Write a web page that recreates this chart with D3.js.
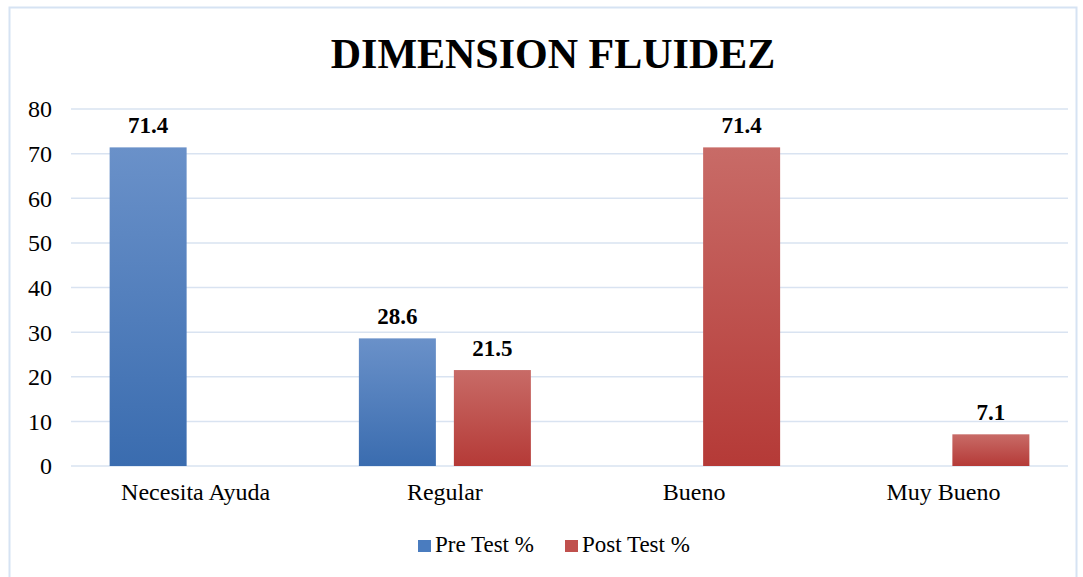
<!DOCTYPE html>
<meta charset="utf-8">
<style>
body { margin: 0; background: #fff; }
.grid line { stroke: #D9E3F1; stroke-width: 1.5px; }
</style>
<svg width="1083" height="577"></svg>
<script src="https://cdnjs.cloudflare.com/ajax/libs/d3/7.8.5/d3.min.js"></script>
<script>
    var categories = ["Necesita Ayuda", "Regular", "Bueno", "Muy Bueno"];
    var series = ["Pre Test %", "Post Test %"];
    var preTest = [71.4, 28.6, null, null];
    var postTest = [null, 21.5, 71.4, 7.1];
    var yTicks = [0, 10, 20, 30, 40, 50, 60, 70, 80];

    var FONT = "'Liberation Serif', 'Times New Roman', 'DejaVu Serif', serif";

    var svg = d3.select("svg");
    var margin = {left: 71, top: 109, right: 15, bottom: 111};
    var width = 1068 - margin.left;
    var height = 466 - margin.top;

    // borde del grafico
    svg.append("rect")
        .attr("x", 9.5).attr("y", 7.5)
        .attr("width", 1067).attr("height", 580)
        .attr("fill", "none")
        .attr("stroke", "#D6E3F3")
        .attr("stroke-width", 2);

    var defs = svg.append("defs");
    function grad(id, top, bottom) {
        var g = defs.append("linearGradient").attr("id", id)
            .attr("x1", 0).attr("y1", 0).attr("x2", 0).attr("y2", 1);
        g.append("stop").attr("offset", "0%").attr("stop-color", top);
        g.append("stop").attr("offset", "100%").attr("stop-color", bottom);
    }
    grad("gBlue", "#6A91C9", "#3A6CAF");
    grad("gRed", "#C86B67", "#B53A37");
    var fills = ["url(#gBlue)", "url(#gRed)"];
    var legendFills = ["#4A7CBF", "#C0504D"];

    var g = svg.append("g")
        .attr("transform", "translate(" + margin.left + "," + margin.top + ")");

    var x0 = d3.scaleBand().domain(categories).range([0, width]);
    var x1 = d3.scaleBand().domain(series)
        .range([x0.bandwidth() / 2 - 86, x0.bandwidth() / 2 + 86])
        .paddingInner(18 / 95);
    var y = d3.scaleLinear().domain([0, 80]).range([height, 0]);

    g.append("g")
        .attr("class", "grid")
        .selectAll("line")
        .data(yTicks)
        .enter().append("line")
        .attr("x1", 0).attr("x2", width)
        .attr("y1", function(d) { return y(d); })
        .attr("y2", function(d) { return y(d); });

    var yAxis = g.append("g")
        .call(d3.axisLeft(y).tickValues(yTicks).tickSize(0).tickPadding(19));
    yAxis.select(".domain").remove();
    yAxis.selectAll("text")
        .style("font-family", FONT)
        .style("font-size", "24px")
        .style("fill", "#000")
        .attr("dy", "0.33em");

    var xAxis = g.append("g")
        .attr("transform", "translate(0," + height + ")")
        .call(d3.axisBottom(x0).tickSize(0).tickPadding(17));
    xAxis.select(".domain").remove();
    xAxis.selectAll("text")
        .style("font-family", FONT)
        .style("font-size", "24px")
        .style("fill", "#000");

    var rows = [];
    categories.forEach(function(c, i) {
        [preTest[i], postTest[i]].forEach(function(v, s) {
            if (v != null) rows.push({cat: c, s: s, v: v});
        });
    });

    g.selectAll("rect.bar")
        .data(rows)
        .enter().append("rect")
        .attr("class", "bar")
        .attr("x", function(d) { return x0(d.cat) + x1(series[d.s]); })
        .attr("y", function(d) { return y(d.v); })
        .attr("width", x1.bandwidth())
        .attr("height", function(d) { return height - y(d.v); })
        .attr("fill", function(d) { return fills[d.s]; });

    g.selectAll("text.lbl")
        .data(rows)
        .enter().append("text")
        .attr("class", "lbl")
        .attr("x", function(d) { return x0(d.cat) + x1(series[d.s]) + x1.bandwidth() / 2; })
        .attr("y", function(d) { return y(d.v) - 14; })
        .attr("text-anchor", "middle")
        .style("font-family", FONT)
        .style("font-size", "23px")
        .style("font-weight", "bold")
        .text(function(d) { return d.v.toFixed(1); });

    svg.append("text")
        .attr("x", 553).attr("y", 68)
        .attr("text-anchor", "middle")
        .style("font-family", FONT)
        .style("font-size", "42px")
        .style("font-weight", "bold")
        .text("DIMENSION FLUIDEZ");

    // leyenda
    var legX = [418, 565];
    var leg = svg.selectAll("g.leg")
        .data(series)
        .enter().append("g")
        .attr("class", "leg")
        .attr("transform", function(d, i) { return "translate(" + legX[i] + ",540)"; });
    leg.append("rect")
        .attr("width", 13).attr("height", 12)
        .attr("fill", function(d, i) { return legendFills[i]; });
    leg.append("text")
        .attr("x", 17).attr("y", 12)
        .style("font-family", FONT)
        .style("font-size", "23px")
        .text(function(d) { return d; });
</script>
